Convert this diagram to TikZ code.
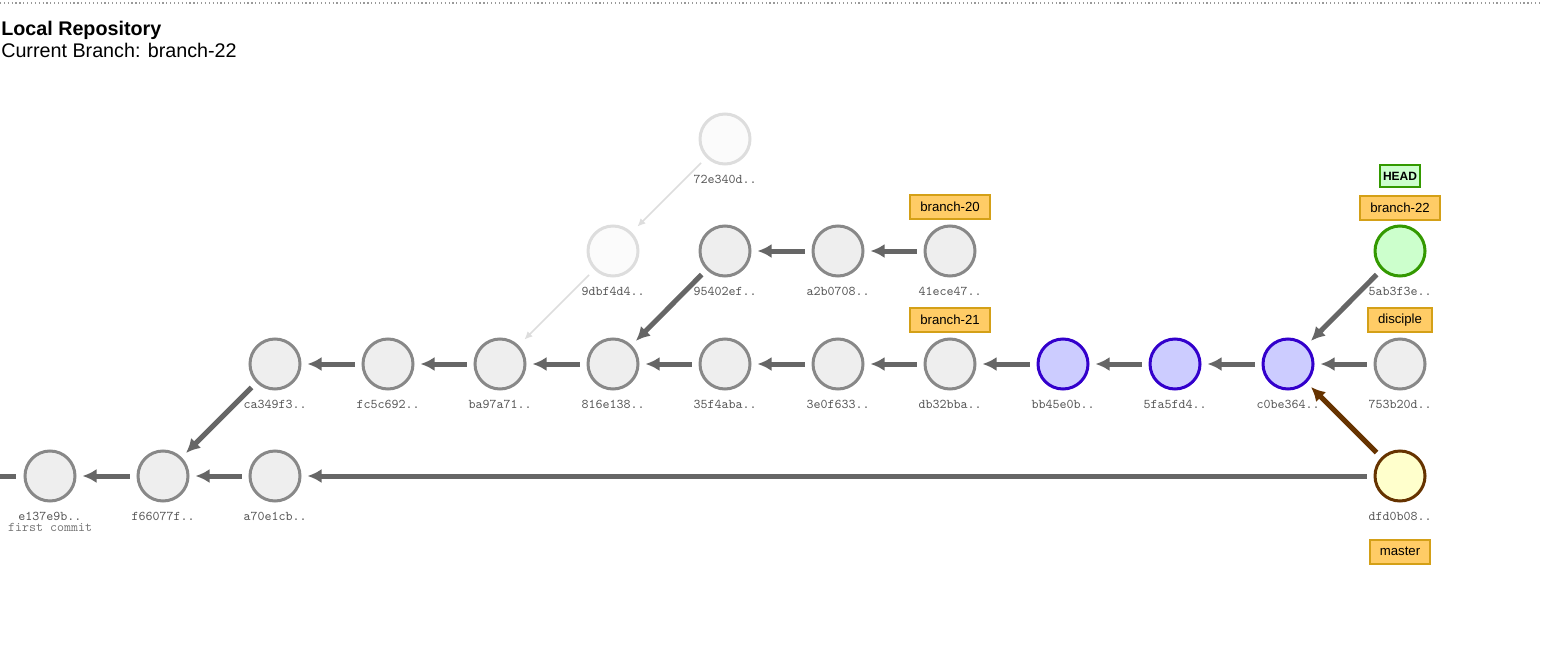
\documentclass[tikz,border=0pt]{standalone}
\usepackage{fontspec}
\setmainfont{Liberation Sans}
\usetikzlibrary{arrows.meta}

\definecolor{edgegray}{HTML}{666666}
\definecolor{ringgray}{HTML}{888888}
\definecolor{fillgray}{HTML}{EEEEEE}
\definecolor{fadering}{HTML}{DDDDDD}
\definecolor{fadefill}{HTML}{FBFBFB}
\definecolor{bluering}{HTML}{3300CC}
\definecolor{bluefill}{HTML}{CCCCFF}
\definecolor{greenring}{HTML}{339900}
\definecolor{greenfill}{HTML}{CCFFCC}
\definecolor{brownring}{HTML}{663300}
\definecolor{yellowfill}{HTML}{FFFFCC}
\definecolor{tagfill}{HTML}{FFCC66}
\definecolor{tagring}{HTML}{D4A017}
\definecolor{hashgray}{HTML}{555555}
\definecolor{notegray}{HTML}{777777}
\definecolor{rulegray}{HTML}{999999}

% one commit: name, x, y, style, short hash
\newcommand\commit[5]{%
  \node[#4] (#1) at (#2,#3) {};
  \node[hashtxt] (#1-h) at (#2,#3+44) {#5};
}

\begin{document}
\begin{tikzpicture}[x=0.75pt,y=-0.75pt,
  commitbase/.style={circle, minimum size=37.5pt, inner sep=0pt, line width=2.25pt},
  plainc/.style={commitbase, draw=ringgray, fill=fillgray},
  fadedc/.style={commitbase, draw=fadering, fill=fadefill},
  bluec/.style={commitbase, draw=bluering, fill=bluefill},
  headc/.style={commitbase, draw=greenring, fill=greenfill},
  masterc/.style={commitbase, draw=brownring, fill=yellowfill},
  hashtxt/.style={font=\ttfamily\fontsize{10pt}{12pt}\selectfont, text=hashgray, anchor=base, inner sep=0pt},
  tagbox/.style={draw=tagring, fill=tagfill, line width=1.5pt, font=\fontsize{9.9pt}{12pt}\selectfont,
    inner xsep=7.5pt, inner ysep=0pt, minimum height=18pt},
  headbox/.style={draw=greenring, fill=greenfill, line width=1.5pt, font=\bfseries\fontsize{9pt}{11pt}\selectfont,
    inner xsep=2.5pt, inner ysep=0pt, minimum height=16.5pt},
  parentedge/.style={draw=edgegray, line width=3.75pt, -{Latex[length=10.5pt,width=10.5pt]},
    shorten >=4.5pt, shorten <=5pt},
  mergeedge/.style={parentedge, draw=brownring},
  fadededge/.style={draw=fadering, line width=1.1pt, -{Latex[length=6pt,width=5.5pt]},
    shorten >=6pt, shorten <=5.5pt},
  stubedge/.style={draw=edgegray, line width=3.75pt, shorten <=6pt}
]
\useasboundingbox (0,0) rectangle (1541,667);

% header
\draw[rulegray, line width=0.9pt, dotted] (0,3) -- (1541,3);
\node[anchor=base west, inner sep=0pt, font=\bfseries\fontsize{14.8pt}{17pt}\selectfont] (title) at (1,35.5) {Local Repository};
\node[anchor=base west, inner sep=0pt, font=\fontsize{14.8pt}{17pt}\selectfont] (subtitle) at (1,58) {Current Branch: branch-22};

% bottom row
\commit{e137}{50}{476}{plainc}{e137e9b..}
\commit{f660}{163}{476}{plainc}{f66077f..}
\commit{a70e}{275}{476}{plainc}{a70e1cb..}
\commit{dfd0}{1400}{476}{masterc}{dfd0b08..}
\node[hashtxt, text=notegray] (e137-note) at (50,531.5) {first commit};

% middle row
\commit{ca34}{275}{364}{plainc}{ca349f3..}
\commit{fc5c}{388}{364}{plainc}{fc5c692..}
\commit{ba97}{500}{364}{plainc}{ba97a71..}
\commit{816e}{613}{364}{plainc}{816e138..}
\commit{35f4}{725}{364}{plainc}{35f4aba..}
\commit{3e0f}{838}{364}{plainc}{3e0f633..}
\commit{db32}{950}{364}{plainc}{db32bba..}
\commit{bb45}{1063}{364}{bluec}{bb45e0b..}
\commit{5fa5}{1175}{364}{bluec}{5fa5fd4..}
\commit{c0be}{1288}{364}{bluec}{c0be364..}
\commit{753b}{1400}{364}{plainc}{753b20d..}

% upper rows
\commit{9dbf}{613}{251}{fadedc}{9dbf4d4..}
\commit{9540}{725}{251}{plainc}{95402ef..}
\commit{a2b0}{838}{251}{plainc}{a2b0708..}
\commit{41ec}{950}{251}{plainc}{41ece47..}
\commit{5ab3}{1400}{251}{headc}{5ab3f3e..}
\commit{72e3}{725}{139}{fadedc}{72e340d..}

% branch tags
\node[tagbox] (tag20) at (950,207) {branch-20};
\node[tagbox] (tag21) at (950,320) {branch-21};
\node[tagbox] (tag22) at (1400,207.5) {branch-22};
\node[tagbox] (tagdisc) at (1400,320) {disciple};
\node[tagbox] (tagmaster) at (1400,551.5) {master};
\node[headbox] (head) at (1400,176) {HEAD};

% parent links
\coordinate (rootstub) at (0,476);
\draw[stubedge] (e137) -- (rootstub);
\draw[parentedge] (f660) -- (e137);
\draw[parentedge] (a70e) -- (f660);
\draw[parentedge] (dfd0) -- (a70e);
\draw[mergeedge] (dfd0) -- (c0be);
\draw[parentedge] (ca34) -- (f660);
\draw[parentedge] (fc5c) -- (ca34);
\draw[parentedge] (ba97) -- (fc5c);
\draw[parentedge] (816e) -- (ba97);
\draw[parentedge] (35f4) -- (816e);
\draw[parentedge] (3e0f) -- (35f4);
\draw[parentedge] (db32) -- (3e0f);
\draw[parentedge] (bb45) -- (db32);
\draw[parentedge] (5fa5) -- (bb45);
\draw[parentedge] (c0be) -- (5fa5);
\draw[parentedge] (753b) -- (c0be);
\draw[parentedge] (5ab3) -- (c0be);
\draw[parentedge] (9540) -- (816e);
\draw[parentedge] (a2b0) -- (9540);
\draw[parentedge] (41ec) -- (a2b0);
\draw[fadededge] (72e3) -- (9dbf);
\draw[fadededge] (9dbf) -- (ba97);
\end{tikzpicture}
\end{document}
